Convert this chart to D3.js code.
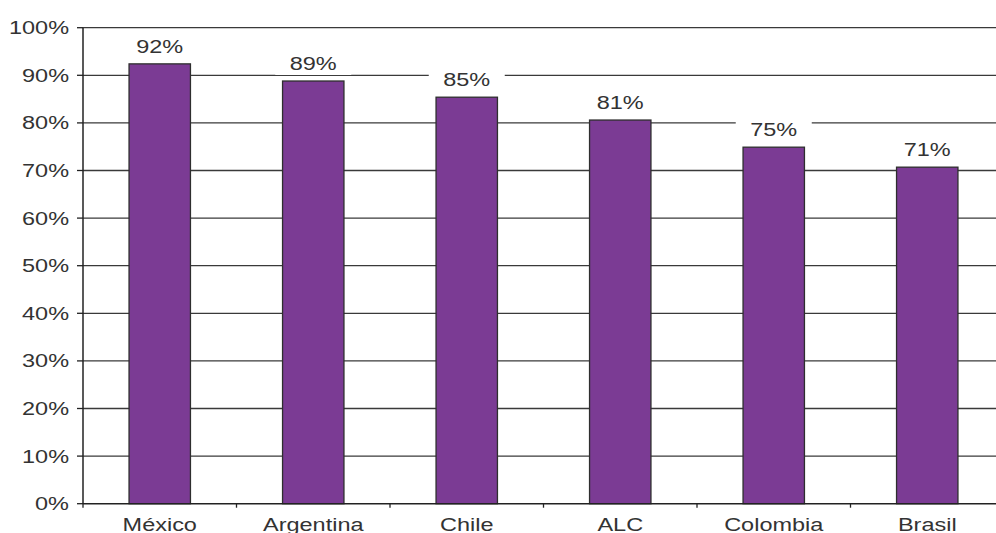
<!DOCTYPE html>
<html><head><meta charset="utf-8">
<script src="https://cdn.jsdelivr.net/npm/d3@7"></script>
<style>html,body{margin:0;padding:0;background:#fff;overflow:hidden}</style>
</head><body>
<svg id="c" width="996" height="533"></svg>
<script>
const categories = ["México", "Argentina", "Chile", "ALC", "Colombia", "Brasil"];
const values = [92.4, 88.8, 85.4, 80.6, 74.9, 70.7];
const yTicks = [0, 10, 20, 30, 40, 50, 60, 70, 80, 90, 100];

(function () {
const svg = d3.select("#c");
const mLeft = 83, mRight = 1004, mTop = 27.7, mBottom = 503.7;
const font = "'Liberation Sans', Arial, sans-serif";
const sx = 1.27;

const x = d3.scaleBand().domain(categories).range([mLeft, mRight]).paddingInner(0.6).paddingOuter(0.3);
const y = d3.scaleLinear().domain([0, 100]).range([mBottom, mTop]);

// gridlines
svg.append("g").selectAll("line").data(yTicks.filter(d => d > 0)).join("line")
  .attr("x1", mLeft).attr("x2", 996)
  .attr("y1", d => y(d)).attr("y2", d => y(d))
  .attr("stroke", "#3a3a3a").attr("stroke-width", 1.3);

// y ticks and labels
svg.append("g").selectAll("line").data(yTicks).join("line")
  .attr("x1", mLeft - 6).attr("x2", mLeft)
  .attr("y1", d => y(d)).attr("y2", d => y(d))
  .attr("stroke", "#222").attr("stroke-width", 1.3);
svg.append("g").selectAll("text").data(yTicks).join("text")
  .attr("transform", d => `translate(${mLeft - 14},${y(d) + 6.5}) scale(${sx},1)`)
  .attr("text-anchor", "end")
  .attr("font-family", font).attr("font-size", 18.5).attr("fill", "#333")
  .text(d => d + "%");

// bars
svg.append("g").selectAll("rect").data(values).join("rect")
  .attr("x", (d, i) => x(categories[i]))
  .attr("width", x.bandwidth())
  .attr("y", d => y(d))
  .attr("height", d => y(0) - y(d))
  .attr("fill", "#7b3b94").attr("stroke", "#2e2e2e").attr("stroke-width", 1.3);

// data labels with white background
const lab = svg.append("g").selectAll("g").data(values).join("g")
  .attr("transform", (d, i) => `translate(${x(categories[i]) + x.bandwidth() / 2},${y(d) - 11})`);
lab.append("rect").attr("x", -38).attr("width", 76).attr("y", -19).attr("height", 24).attr("fill", "#fff");
lab.append("text")
  .attr("transform", `scale(${sx},1)`)
  .attr("text-anchor", "middle")
  .attr("font-family", font).attr("font-size", 18.5).attr("fill", "#333")
  .text(d => Math.round(d) + "%");

// axes lines
svg.append("line").attr("x1", mLeft).attr("x2", mLeft).attr("y1", mTop).attr("y2", mBottom)
  .attr("stroke", "#222").attr("stroke-width", 1.5);
svg.append("line").attr("x1", mLeft).attr("x2", 996).attr("y1", mBottom).attr("y2", mBottom)
  .attr("stroke", "#222").attr("stroke-width", 1.5);

// x ticks at band boundaries
const step = x.step();
const bounds = d3.range(categories.length + 1).map(i => mLeft + i * step);
svg.append("g").selectAll("line").data(bounds).join("line")
  .attr("x1", d => d).attr("x2", d => d)
  .attr("y1", mBottom).attr("y2", mBottom + 4)
  .attr("stroke", "#222").attr("stroke-width", 1.3);

// x labels
svg.append("g").selectAll("text").data(categories).join("text")
  .attr("transform", d => `translate(${x(d) + x.bandwidth() / 2},${530.7}) scale(${sx},1)`)
  .attr("text-anchor", "middle")
  .attr("font-family", font).attr("font-size", 18.5).attr("fill", "#333")
  .text(d => d);
})();
</script>
</body></html>
